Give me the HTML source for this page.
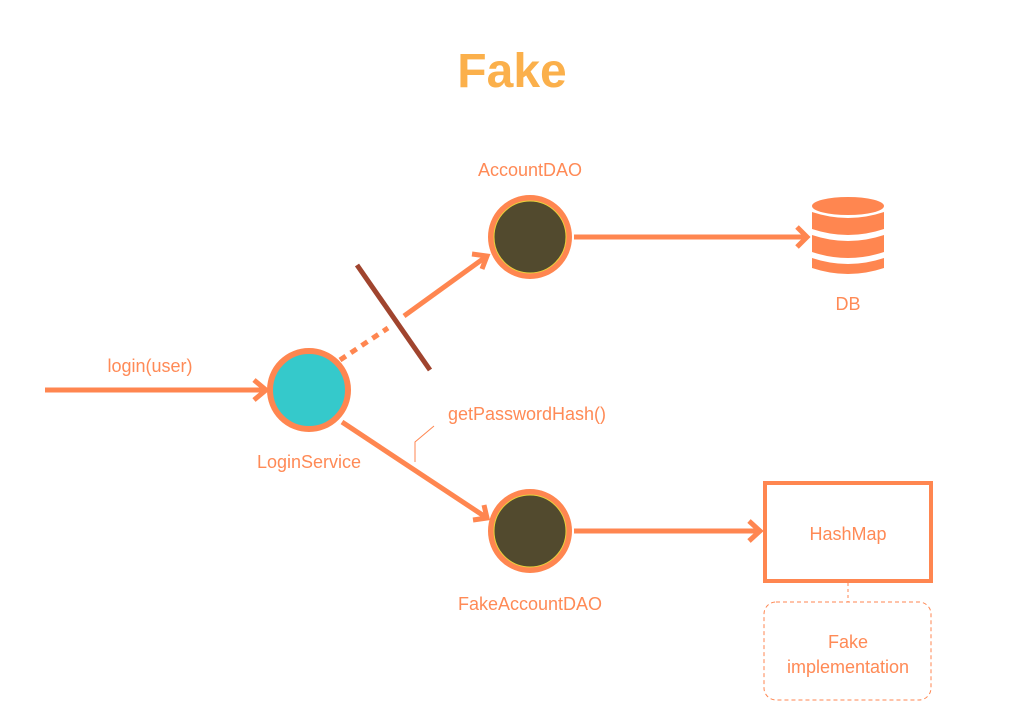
<!DOCTYPE html>
<html><head><style>html,body{margin:0;padding:0;background:#fff}svg{display:block}text{font-family:"Liberation Sans",sans-serif;fill:#FF8A56}</style></head>
<body>
<svg width="1024" height="724" viewBox="0 0 1024 724" xmlns="http://www.w3.org/2000/svg">
<text x="512" y="87" text-anchor="middle" font-size="48" font-weight="bold" style="fill:#FBB04B">Fake</text>
<g stroke="#FF8650" stroke-width="5" fill="none" stroke-linecap="butt">
<line x1="45" y1="390" x2="266" y2="390"/>
<polyline points="254,380 266,390 254,400"/>
<line x1="340" y1="360" x2="388" y2="328" stroke-dasharray="7,6"/>
<line x1="404" y1="316" x2="487" y2="256"/>
<polyline points="472,254 487,256 482,269"/>
<line x1="342" y1="422" x2="487" y2="518"/>
<polyline points="473,520 487,518 484,505"/>
<line x1="574" y1="237" x2="806" y2="237"/>
<polyline points="797,227 807,237 797,247"/>
<line x1="574" y1="531" x2="760" y2="531"/>
<polyline points="749,521 760,531 749,541"/>
<rect x="765" y="483" width="166" height="98" stroke-width="4"/>
</g>
<line x1="357" y1="265" x2="430" y2="370" stroke="#A0442E" stroke-width="5"/>
<polyline points="415,462 415,442 434,426" fill="none" stroke="#FF8650" stroke-width="1"/>
<line x1="848" y1="583" x2="848" y2="602" stroke="#FF8650" stroke-width="1" stroke-dasharray="3,3"/>
<rect x="764" y="602" width="167" height="98" rx="12" fill="none" stroke="#FF8650" stroke-width="1" stroke-dasharray="4,3"/>
<g stroke="#FF8650" stroke-width="6">
<circle cx="530" cy="237" r="39" fill="#524A2E"/>
<circle cx="309" cy="390" r="39" fill="#35C9CB"/>
<circle cx="530" cy="531" r="39" fill="#524A2E"/>
</g>
<circle cx="530" cy="237" r="36" fill="none" stroke="#E8D23A" stroke-width="1"/>
<circle cx="530" cy="531" r="36" fill="none" stroke="#E8D23A" stroke-width="1"/>
<g fill="#FF8650">
<ellipse cx="848" cy="206" rx="36" ry="9"/>
<path d="M812,212 Q848,224 884,212 V229 Q848,241 812,229 Z"/>
<path d="M812,235 Q848,247 884,235 V252 Q848,264 812,252 Z"/>
<path d="M812,258 Q848,270 884,258 V268 Q848,280 812,268 Z"/>
</g>
<g font-size="18" text-anchor="middle">
<text x="530" y="176">AccountDAO</text>
<text x="848" y="310">DB</text>
<text x="150" y="372">login(user)</text>
<text x="309" y="468">LoginService</text>
<text x="527" y="420">getPasswordHash()</text>
<text x="530" y="610">FakeAccountDAO</text>
<text x="848" y="540">HashMap</text>
<text x="848" y="648">Fake</text>
<text x="848" y="673">implementation</text>
</g>
</svg>
</body></html>
